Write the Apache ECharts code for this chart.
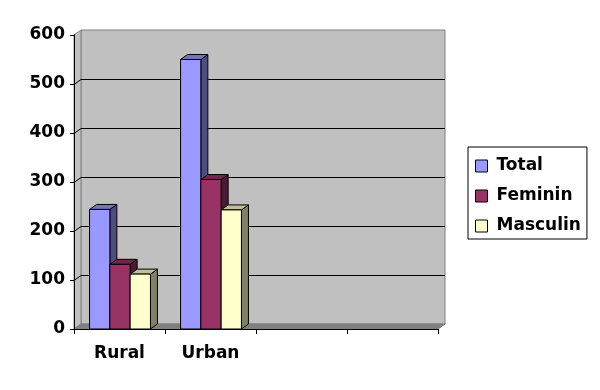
<!DOCTYPE html>
<html>
<head>
<meta charset="utf-8">
<script src="https://cdn.jsdelivr.net/npm/echarts@6/dist/echarts.min.js"></script>
<style>html,body{margin:0;padding:0;background:#fff;}#c{width:600px;height:390px;}</style>
</head>
<body>
<div id="c"></div>
<script>
const categories = ['Rural', 'Urban', '', ''];
const seriesNames = ['Total', 'Feminin', 'Masculin'];
const totalValues = [244, 550];
const femininValues = [132, 305];
const masculinValues = [112, 243];
const yTicks = [0, 100, 200, 300, 400, 500, 600];

const FONT = '"DejaVu Sans", Arial, sans-serif';
const DX = 7, DY = -5;
const palette = [
  { front: '#9999FF', top: '#7373BF', side: '#4D4D80' },
  { front: '#993366', top: '#73264D', side: '#4D1A33' },
  { front: '#FFFFCC', top: '#BFBF99', side: '#808066' }
];

function barRenderer(k) {
  return function (params, api) {
    const i = api.value(0), v = api.value(1);
    const base = api.coord([i, 0]);
    const top = api.coord([i, v]);
    const bw = api.size([1, 0])[0] * 0.223;
    const x0 = base[0] - 1.5 * bw + k * bw + 0.5;
    const yb = base[1], yt = top[1];
    const c = palette[k];
    const st = { stroke: '#000', lineWidth: 1 };
    return {
      type: 'group',
      children: [
        { type: 'polygon', shape: { points: [[x0 + bw, yt], [x0 + bw + DX, yt + DY], [x0 + bw + DX, yb + DY], [x0 + bw, yb]] }, style: Object.assign({ fill: c.side }, st) },
        { type: 'polygon', shape: { points: [[x0, yt], [x0 + DX, yt + DY], [x0 + bw + DX, yt + DY], [x0 + bw, yt]] }, style: Object.assign({ fill: c.top }, st) },
        { type: 'rect', shape: { x: x0, y: yt, width: bw, height: yb - yt }, style: Object.assign({ fill: c.front }, st) }
      ]
    };
  };
}

function wallRenderer(params, api) {
  const cs = params.coordSys;
  const L = cs.x, R = cs.x + cs.width, T = cs.y, B = cs.y + cs.height;
  const children = [
    { type: 'polygon', shape: { points: [[L + DX, T + DY], [R + DX, T + DY], [R + DX, B + DY], [L + DX, B + DY]] }, style: { fill: '#C0C0C0', stroke: '#808080', lineWidth: 1 } },
    { type: 'polygon', shape: { points: [[L, T], [L + DX, T + DY], [L + DX, B + DY], [L, B]] }, style: { fill: '#C0C0C0', stroke: '#808080', lineWidth: 1 } },
    { type: 'polygon', shape: { points: [[L, B], [L + DX, B + DY], [R + DX, B + DY], [R, B]] }, style: { fill: '#808080', stroke: '#808080', lineWidth: 1 } }
  ];
  yTicks.forEach(function (t) {
    if (t === yTicks[0] || t === yTicks[yTicks.length - 1]) return;
    const p = api.coord([0, t]);
    const y = Math.round(p[1]) + 0.5;
    children.push({ type: 'polyline', shape: { points: [[L, y], [L + DX, y + DY], [R + DX, y + DY]] }, style: { stroke: '#000', lineWidth: 1, fill: null } });
  });
  return { type: 'group', children: children };
}

const valueSets = [totalValues, femininValues, masculinValues];
const series = [{
  type: 'custom', name: '__wall', silent: true, z: 0,
  renderItem: wallRenderer, data: [[0, 0]], encode: { x: 0, y: 1 }
}];
seriesNames.forEach(function (n, k) {
  series.push({
    type: 'custom', name: n, z: 2 + k,
    itemStyle: { color: palette[k].front },
    renderItem: barRenderer(k),
    data: valueSets[k].map(function (v, i) { return [i, v]; }),
    encode: { x: 0, y: 1 }
  });
});

const chart = echarts.init(document.getElementById('c'), null, { renderer: 'canvas' });
chart.setOption({
  animation: false,
  backgroundColor: '#ffffff',
  grid: { left: 74, right: 162, top: 35, bottom: 61 },
  legend: {
    data: seriesNames,
    orient: 'vertical',
    left: 468, top: 147,
    padding: [9, 6, 3, 7],
    itemGap: 10,
    itemWidth: 12, itemHeight: 12,
    icon: 'rect',
    itemStyle: { borderColor: '#000', borderWidth: 1 },
    borderColor: '#000', borderWidth: 1,
    textStyle: { fontFamily: FONT, fontWeight: 'bold', fontSize: 17, color: '#000', lineHeight: 20, padding: [0, 0, 0, 4] }
  },
  xAxis: {
    type: 'category', data: categories, z: 10,
    axisLine: { lineStyle: { color: '#000', width: 1 } },
    axisTick: { show: true, length: 5, lineStyle: { color: '#000' } },
    axisLabel: { fontFamily: FONT, fontWeight: 'bold', fontSize: 17, color: '#000', margin: 16 },
    splitLine: { show: false }
  },
  yAxis: {
    type: 'value', min: 0, max: 600, interval: 100, z: 10,
    axisLine: { show: true, lineStyle: { color: '#000', width: 1 } },
    axisTick: { show: true, length: 4, lineStyle: { color: '#000' } },
    axisLabel: { fontFamily: FONT, fontWeight: 'bold', fontSize: 17, color: '#000', margin: 9 },
    splitLine: { show: false }
  },
  series: series
});
</script>
</body>
</html>
